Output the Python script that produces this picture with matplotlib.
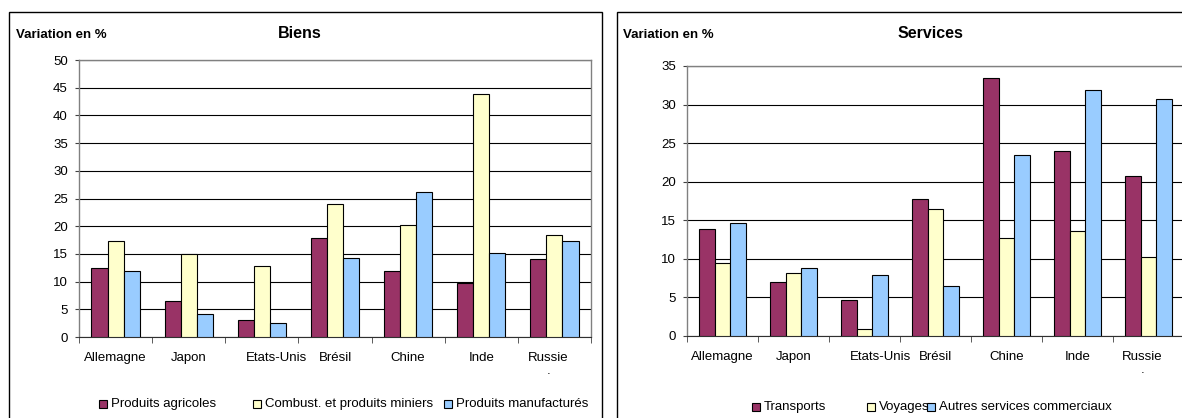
import numpy as np
import matplotlib
matplotlib.use("Agg")
import matplotlib.pyplot as plt
from matplotlib.patches import Rectangle
from matplotlib.transforms import ScaledTranslation

plt.rcParams['font.family'] = ['Liberation Sans', 'DejaVu Sans']

W, H = 1182, 418

pays = ["Allemagne", "Japon", "Etats-Unis", "Brésil", "Chine", "Inde", "Russie"]

# Biens (variation en %)
produits_agricoles = [12.4, 6.5, 3.1, 17.9, 12.0, 9.7, 14.1]
combust_miniers = [17.4, 15.0, 12.8, 24.0, 20.3, 43.9, 18.5]
produits_manuf = [11.9, 4.1, 2.5, 14.2, 26.1, 15.2, 17.4]
noms_biens = ["Produits agricoles", "Combust. et produits miniers", "Produits manufacturés"]

# Services (variation en %)
transports = [13.9, 7.0, 4.7, 17.8, 33.4, 24.0, 20.8]
voyages = [9.5, 8.2, 0.9, 16.5, 12.7, 13.6, 10.2]
autres_services = [14.7, 8.8, 7.9, 6.5, 23.4, 31.9, 30.7]
noms_services = ["Transports", "Voyages", "Autres services commerciaux"]

colors = ['#993366', '#FFFFCC', '#99CCFF']
FS = 9.5


def fig_rect(x0, y0, x1, y1):
    # pixel box (top-left origin) -> figure fraction
    return [x0 / W, 1 - y1 / H, (x1 - x0) / W, (y1 - y0) / H]


def panel(fig, rect, series, names, ymax, title, title_x, ylab_x, leg_xs, leg_y, shifts):
    ax = fig.add_axes(fig_rect(*rect))
    x = np.arange(len(pays))
    bw = 0.22
    for k, (vals, col) in enumerate(zip(series, colors)):
        ax.bar(x + (k - 1) * bw, vals, bw, color=col, edgecolor='black',
               linewidth=0.8, zorder=3)

    ax.set_xlim(-0.5, len(pays) - 0.5)
    ax.set_ylim(0, ymax)
    ax.set_yticks(np.arange(0, ymax + 1, 5))
    ax.yaxis.grid(True, color='black', linewidth=0.8)
    ax.set_axisbelow(True)

    ax.set_xticks(x)
    ax.set_xticklabels([p if p != "Russie" else "Russie\n." for p in pays])
    ax.set_xticks(np.arange(len(pays) + 1) - 0.5, minor=True)
    ax.tick_params(axis='x', which='major', length=0, pad=10.5, labelsize=FS)
    ax.tick_params(axis='x', which='minor', length=4, direction='out', color='#404040')
    ax.tick_params(axis='y', length=3, direction='out', pad=5, labelsize=FS, color='#404040')

    for lab in ax.get_xticklabels():
        dx = shifts.get(lab.get_text().split("\n")[0], 0)
        if dx:
            lab.set_transform(lab.get_transform() + ScaledTranslation(dx / 100, 0, fig.dpi_scale_trans))

    for s in ['top', 'right', 'left']:
        ax.spines[s].set_color('#808080')
        ax.spines[s].set_linewidth(1)
    ax.spines['bottom'].set_color('#303030')

    fig.text(title_x / W, 1 - 33 / H, title, fontsize=11.5, fontweight='bold',
             ha='center', va='center')
    fig.text(ylab_x / W, 1 - 35 / H, "Variation en %", fontsize=FS, fontweight='bold',
             ha='left', va='center')

    # legend, drawn the Excel way
    sq = 8
    for name, col, lx in zip(names, colors, leg_xs):
        fig.patches.append(Rectangle((lx / W, 1 - (leg_y + sq / 2) / H), sq / W, sq / H,
                                     transform=fig.transFigure, facecolor=col,
                                     edgecolor='black', linewidth=0.8))
        fig.text((lx + sq + 4) / W, 1 - leg_y / H, name, fontsize=FS,
                 ha='left', va='center')
    return ax


fig = plt.figure(figsize=(W / 100, H / 100), dpi=100)

# panel frames
for x0, x1 in [(9, 602), (617, 1190)]:
    fig.patches.append(Rectangle((x0 / W, 1 - 425 / H), (x1 - x0) / W, (425 - 12) / H,
                                 transform=fig.transFigure, fill=False,
                                 edgecolor='black', linewidth=1))

panel(fig, (79, 60, 591, 337), [produits_agricoles, combust_miniers, produits_manuf],
      noms_biens, 50, "Biens", 300, 16, [99, 253, 444], 404,
      {"Etats-Unis": 15, "Russie": -6})

panel(fig, (687, 66, 1184, 336), [transports, voyages, autres_services],
      noms_services, 35, "Services", 930, 623, [752, 867, 927], 407,
      {"Etats-Unis": 16, "Russie": -6})

fig.savefig("out.png", dpi=100)
